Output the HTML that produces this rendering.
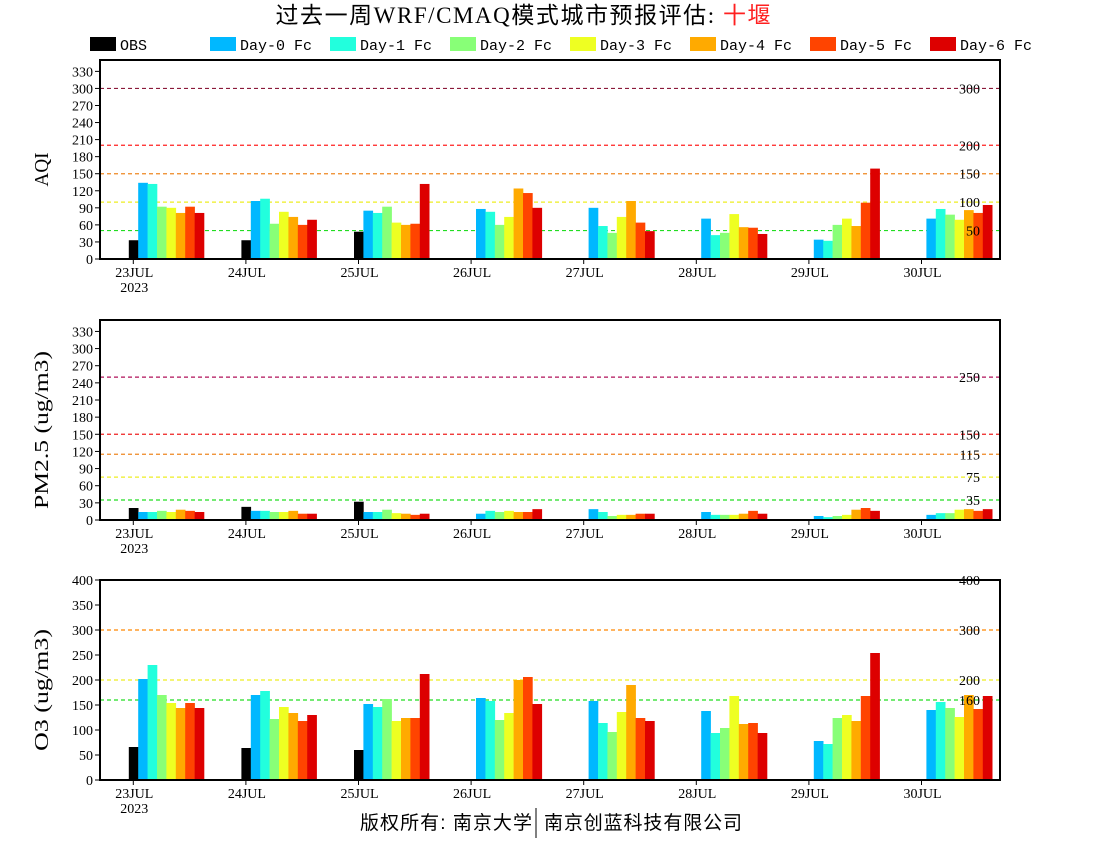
<!DOCTYPE html>
<html><head><meta charset="utf-8">
<style>
html,body{margin:0;padding:0;background:#fff;}
svg{display:block;}
</style></head>
<body>
<svg id="s" width="1100" height="850" xmlns="http://www.w3.org/2000/svg" font-family="'Liberation Serif','Noto Serif CJK SC',serif">
<text x="523" y="23" font-size="23" text-anchor="middle" textLength="495" font-family="'Liberation Serif','Noto Sans CJK SC',sans-serif">过去一周WRF/CMAQ模式城市预报评估: <tspan fill="#ff2020">十堰</tspan></text>
<text x="360" y="829" font-size="19" textLength="172" font-family="'Liberation Sans','Noto Sans CJK SC',sans-serif">版权所有: 南京大学</text>
<text x="544" y="829" font-size="19" textLength="198" font-family="'Liberation Sans','Noto Sans CJK SC',sans-serif">南京创蓝科技有限公司</text>
<line x1="536" y1="808" x2="536" y2="838" stroke="#000" stroke-width="1"/>
</svg>
<script>
const s=document.getElementById('s');
const NS='http://www.w3.org/2000/svg';
function el(t,a,txt){const e=document.createElementNS(NS,t);for(const k in a)e.setAttribute(k,a[k]);if(txt!==undefined)e.textContent=txt;s.appendChild(e);return e;}
const cols=['#000000','#00b8ff','#22ffdd','#88ff77','#eeff22','#ffaa00','#ff4400','#dd0000'];
const names=['OBS','Day-0 Fc','Day-1 Fc','Day-2 Fc','Day-3 Fc','Day-4 Fc','Day-5 Fc','Day-6 Fc'];
for(let i=0;i<8;i++){const x=90+i*120;el('rect',{x:x,y:37,width:26,height:14,fill:cols[i]});el('text',{x:x+30,y:50,'font-size':15,'font-family':"'Liberation Mono',monospace"},names[i]);}
const days=['23JUL','24JUL','25JUL','26JUL','27JUL','28JUL','29JUL','30JUL'];
const panels=[
 {top:60,bot:259,max:350,step:30,label:'AQI',len:34,
  lines:[[300,'#8b1a3a'],[200,'#ff2020'],[150,'#ee8822'],[100,'#eeee22'],[50,'#22dd22']],
  data:[[33,134,132,92,90,81,92,81],[33,102,106,62,83,74,60,69],[48,85,81,92,64,60,62,132],[null,88,83,60,74,124,116,90],[null,90,58,46,74,102,64,49],[null,71,42,46,79,56,55,44],[null,34,32,60,71,58,99,159],[null,71,88,78,69,86,81,95]]},
 {top:320,bot:520,max:350,step:30,label:'PM2.5 (ug/m3)',len:158,
  lines:[[250,'#b0105a'],[150,'#ee2020'],[115,'#ee8822'],[75,'#eeee22'],[35,'#22dd22']],
  data:[[21,14,14,16,14,18,16,14],[23,16,16,14,14,16,11,11],[32,14,14,18,12,11,9,11],[null,11,16,14,16,14,14,19],[null,19,14,7,9,9,11,11],[null,14,9,9,9,11,16,11],[null,7,5,7,9,18,21,16],[null,9,12,12,18,19,16,19]]},
 {top:580,bot:780,max:400,step:50,label:'O3 (ug/m3)',len:122,
  lines:[[400,'#ff2020'],[300,'#ff8800'],[200,'#eeee22'],[160,'#22dd22']],
  data:[[66,202,230,170,154,144,154,144],[64,170,178,122,146,134,118,130],[60,152,146,162,118,124,124,212],[null,164,158,120,134,200,206,152],[null,158,114,96,136,190,124,118],[null,138,94,104,168,112,114,94],[null,78,72,124,130,118,168,254],[null,140,156,144,126,170,142,168]]}
];
const L=100,R=1000,x0=133.3,dx=112.6,bw=9.4;
panels.forEach(p=>{
 const sc=(p.bot-p.top)/p.max, Y=v=>p.bot-v*sc;
 p.lines.forEach(([v,c])=>{el('line',{x1:L,x2:R,y1:Y(v),y2:Y(v),stroke:c,'stroke-width':1.2,'stroke-dasharray':'4,3'});});
 p.data.forEach((d,di)=>{d.forEach((v,bi)=>{if(v==null)return;const x=x0-4.5+di*dx+bi*bw;el('rect',{x:x,y:Y(v),width:bw+0.3,height:v*sc+1,fill:cols[bi]});});});
 p.lines.forEach(([v,c])=>{const t=String(v);el('text',{x:980,y:Y(v)+5,'font-size':14,'text-anchor':'end'},t);});
 for(let v=0;v<=p.max;v+=p.step){const y=Y(v);el('line',{x1:95,x2:100,y1:y,y2:y,stroke:'#000','stroke-width':1});el('text',{x:93,y:y+5,'font-size':14,'text-anchor':'end'},String(v));}
 el('rect',{x:L,y:p.top,width:R-L,height:p.bot-p.top,fill:'none',stroke:'#000','stroke-width':2});
 days.forEach((d,i)=>{const x=x0+i*dx;el('line',{x1:x,x2:x,y1:p.bot,y2:p.bot+5,stroke:'#000'});el('text',{x:x+1,y:p.bot+18,'font-size':14,'text-anchor':'middle'},d);});
 el('text',{x:x0+1,y:p.bot+33,'font-size':14,'text-anchor':'middle'},'2023');
 const cy=(p.top+p.bot)/2+10, lx=48;
 el('text',{x:lx,y:cy,'font-size':20,'text-anchor':'middle',textLength:p.len,lengthAdjust:'spacingAndGlyphs',transform:`rotate(-90 ${lx} ${cy})`},p.label);
});
</script>
</body></html>
